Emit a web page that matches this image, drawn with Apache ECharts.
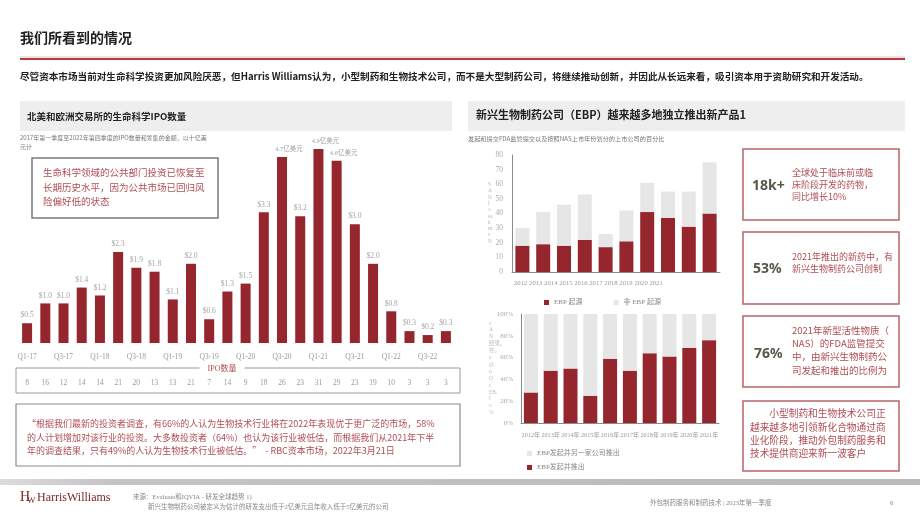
<!DOCTYPE html>
<html>
<head>
<meta charset="utf-8">
<script src="https://cdn.jsdelivr.net/npm/echarts@6/dist/echarts.min.js"></script>
<style>
  html, body { margin: 0; padding: 0; background: #fff; }
  #main { width: 920px; height: 518px; }
</style>
</head>
<body>
<div id="main"></div>
<script>
// 左图：北美和欧洲生命科学IPO（十亿美元 / 数量）
const quarters = ['Q1-17','Q2-17','Q3-17','Q4-17','Q1-18','Q2-18','Q3-18','Q4-18',
  'Q1-19','Q2-19','Q3-19','Q4-19','Q1-20','Q2-20','Q3-20','Q4-20',
  'Q1-21','Q2-21','Q3-21','Q4-21','Q1-22','Q2-22','Q3-22','Q4-22']
const ipoAmount = [0.5, 1.0, 1.0, 1.4, 1.2, 2.3, 1.9, 1.8, 1.1, 2.0, 0.6, 1.3,
  1.5, 3.3, 4.7, 3.2, 4.9, 4.6, 3.0, 2.0, 0.8, 0.3, 0.2, 0.3]
const ipoCount = [8, 16, 12, 14, 14, 21, 20, 13, 13, 21, 7, 14, 9, 18, 26, 23, 31, 29, 23, 19, 10, 3, 3, 3]

// 右上：NAS数量（按上市年份）
const years = ['2012','2013','2014','2015','2016','2017','2018','2019','2020','2021']
const ebpOrigin = [18, 19, 18, 22, 17, 21, 41, 37, 31, 40]
const nonEbpOrigin = [12, 22, 28, 31, 9, 21, 20, 18, 24, 35]

// 右下：百分比
const yearLabels = ['2012年','2013年','2014年','2015年','2016年','2017年','2018年','2019年','2020年','2021年']
const ebpLaunched = [28, 48, 50, 25, 59, 48, 64, 61, 69, 76]
const ebpPartnered = [72, 52, 50, 75, 41, 52, 36, 39, 31, 24]

const RED = '#95262d'
const LIGHT = '#e6e6e6'
const TXT_RED = '#b04c54'
const serif = '"Liberation Serif", "Noto Sans CJK SC", serif'
const sans = '"Noto Sans CJK SC", "Noto Sans", sans-serif'

const txt = (x, y, text, size, color, o = {}) => ({
  type: 'text', x, y, silent: true,
  style: {
    text,
    font: (o.weight || 'normal') + ' ' + size + 'px ' + (o.family || sans),
    fill: color,
    align: o.align || 'left', textAlign: o.align || 'left',
    verticalAlign: 'middle', textVerticalAlign: 'middle',
    lineHeight: o.lh
  }
})
const box = (x, y, w, h, stroke, lw, fill) => ({
  type: 'rect', silent: true,
  shape: { x, y, width: w, height: h },
  style: { fill: fill || 'none', stroke: stroke || 'none', lineWidth: lw || 0 }
})

// 大额（亿美元）的标签字号小一点并且往右偏，和原图一样
const ipoData = ipoAmount.map(v => v >= 4
  ? { value: v, label: { fontSize: 6.5, offset: [7, 0], formatter: v.toFixed(1) + '亿美元' } }
  : v)

const graphics = [
  // 页头
  txt(20, 38, '我们所看到的情况', 14, '#222', { weight: 'bold' }),
  { type: 'line', silent: true, shape: { x1: 20, y1: 57, x2: 905, y2: 57 }, style: { stroke: '#e8c4c6', lineWidth: 1 } },
  { type: 'line', silent: true, shape: { x1: 20, y1: 59, x2: 905, y2: 59 }, style: { stroke: '#b83a41', lineWidth: 2 } },
  txt(20, 76, '尽管资本市场当前对生命科学投资更加风险厌恶，但Harris Williams认为，小型制药和生物技术公司，而不是大型制药公司，将继续推动创新，并因此从长远来看，吸引资本用于资助研究和开发活动。', 9.6, '#222', { weight: 'bold' }),

  // 左图标题
  box(20, 101, 432, 30, null, 0, '#eeeeee'),
  txt(27, 116, '北美和欧洲交易所的生命科学IPO数量', 9.5, '#222', { weight: 'bold' }),
  txt(20, 142, '2017年第一季度至2022年第四季度的IPO数量和筹集的金额，以十亿美\n元计', 6, '#777', { lh: 8.5 }),
  box(32, 158, 186, 60, '#7a7a7a', 1.5),
  txt(43, 187, '生命科学领域的公共部门投资已恢复至\n长期历史水平，因为公共市场已回归风\n险偏好低的状态', 9.5, TXT_RED, { lh: 14.3 }),

  // IPO数量框
  box(16, 368, 444, 25, '#9a9a9a', 1),
  {
    type: 'text', x: 222, y: 369, silent: true, z: 10,
    style: {
      text: 'IPO数量', font: '8px ' + serif, fill: TXT_RED,
      align: 'center', textAlign: 'center', verticalAlign: 'middle', textVerticalAlign: 'middle',
      backgroundColor: '#fff', padding: [0, 8]
    }
  },

  // 引用框
  box(16, 404, 444, 62, '#8a8a8a', 1.2),
  txt(27, 437.5, '“根据我们最新的投资者调查，有66%的人认为生物技术行业将在2022年表现优于更广泛的市场，58%\n的人计划增加对该行业的投资。大多数投资者（64%）也认为该行业被低估，而根据我们从2021年下半\n年的调查结果，只有49%的人认为生物技术行业被低估。”  - RBC资本市场，2022年3月21日', 9, TXT_RED, { lh: 13.5 }),

  // 右图标题
  box(468, 101, 437, 30, null, 0, '#eeeeee'),
  txt(476, 115, '新兴生物制药公司（EBP）越来越多地独立推出新产品1', 11, '#222', { weight: 'bold' }),
  txt(468, 139, '发起和提交FDA监管提交以及按照NAS上市年份划分的上市公司的百分比', 6.2, '#777'),
  txt(514, 283, years.join(' '), 6.7, '#999', { family: serif }),
  txt(488, 213, 'S\nA\nN\nf\no\ner.\nk\nm.\ns\nN', 5.5, '#bbb', { family: serif, lh: 6.3 }),
  txt(489, 368, 's\nA\nN\n结果。\n在。\ns\ngl.\nn\nO\nr.\nEB.\nf\no\n%', 5.5, '#bbb', { family: serif, lh: 6.9 }),

  // 右侧关键数字框
  box(743, 149, 156, 71, '#b8646b', 1.5),
  txt(752, 186, '18k+', 14, '#57574a', { weight: 'bold', family: '"Noto Sans", sans-serif' }),
  txt(792, 184.5, '全球处于临床前或临\n床阶段开发的药物，\n同比增长10%', 9, TXT_RED, { lh: 12.4 }),
  box(743, 232, 156, 72, '#b8646b', 1.5),
  txt(753, 269, '53%', 14, '#57574a', { weight: 'bold', family: '"Noto Sans", sans-serif' }),
  txt(792, 262.5, '2021年推出的新药中，有\n新兴生物制药公司创制', 9, TXT_RED, { lh: 11.8 }),
  box(743, 316, 156, 71, '#b8646b', 1.5),
  txt(754, 354, '76%', 14, '#57574a', { weight: 'bold', family: '"Noto Sans", sans-serif' }),
  txt(792, 350, '2021年新型活性物质（\nNAS）的FDA监管提交\n中，由新兴生物制药公\n司发起和推出的比例为', 9.5, TXT_RED, { lh: 13.3 }),
  box(743, 401, 156, 70, '#b8646b', 1.5),
  txt(750, 433.5, '\u3000\u3000小型制药和生物技术公司正\n越来越多地引领新化合物通过商\n业化阶段，推动外包制药服务和\n技术提供商迎来新一波客户', 9.7, TXT_RED, { lh: 13.3 }),

  // 页脚
  {
    type: 'rect', silent: true, shape: { x: 0, y: 479, width: 920, height: 6 },
    style: { fill: new echarts.graphic.LinearGradient(0, 0, 1, 0, [{ offset: 0, color: '#dcdcdc' }, { offset: 0.12, color: '#c4c4c4' }, { offset: 1, color: '#b9b9b9' }]) }
  },
  txt(20, 497, 'H', 14, '#7a1f26', { family: serif }),
  txt(27, 501, 'W', 9, '#7a1f26', { family: serif }),
  txt(37, 498, 'HarrisWilliams', 12, '#7a1f26', { family: serif }),
  txt(133, 497, '来源：Evaluate和IQVIA - 研发全球趋势 1)', 6.5, '#888', { family: serif }),
  txt(148, 507, '新兴生物制药公司被定义为估计的研发支出低于2亿美元且年收入低于5亿美元的公司', 6.5, '#888', { family: serif }),
  txt(650, 503, '外包制药服务和制药技术 | 2023年第一季度', 6.5, '#888', { family: serif }),
  txt(890, 503, '6', 6.5, '#888', { family: serif })
]

const option = {
  animation: false,
  backgroundColor: '#fff',
  grid: [
    { left: 18, top: 145, width: 437, height: 198 },
    { left: 512, top: 155, width: 208, height: 117 },
    { left: 521, top: 314, width: 198, height: 109 }
  ],
  legend: [
    {
      data: ['EBP 起源', '非 EBP 起源'], left: 539, top: 294, icon: 'rect',
      itemWidth: 5, itemHeight: 5, itemGap: 31,
      textStyle: { fontSize: 7, color: '#888', fontFamily: serif }
    },
    {
      data: ['EBP发起并另一家公司推出', 'EBP发起并推出'], left: 522, top: 445, orient: 'vertical', icon: 'rect',
      itemWidth: 5, itemHeight: 5, itemGap: 7,
      textStyle: { fontSize: 7, color: '#888', fontFamily: serif }
    }
  ],
  xAxis: [
    {
      gridIndex: 0, type: 'category', data: quarters,
      axisLine: { show: false }, axisTick: { show: false },
      axisLabel: { interval: 1, color: '#999', fontFamily: serif, fontSize: 7.5, margin: 10 }
    },
    {
      gridIndex: 0, type: 'category', data: quarters, position: 'bottom', offset: 28,
      axisLine: { show: false }, axisTick: { show: false },
      axisLabel: { interval: 0, color: '#999', fontFamily: serif, fontSize: 7.5, margin: 8,
        formatter: (v, i) => String(ipoCount[i]) }
    },
    {
      gridIndex: 1, type: 'category', data: years,
      axisLine: { lineStyle: { color: '#8a8a8a' } }, axisTick: { show: false }, axisLabel: { show: false }
    },
    {
      gridIndex: 2, type: 'category', data: yearLabels,
      axisLine: { lineStyle: { color: '#8a8a8a' } }, axisTick: { show: false },
      axisLabel: { interval: 0, color: '#999', fontFamily: serif, fontSize: 6.2, margin: 9 }
    }
  ],
  yAxis: [
    { gridIndex: 0, type: 'value', min: 0, max: 5, show: false },
    {
      gridIndex: 1, type: 'value', min: 0, max: 80, interval: 10,
      axisLine: { show: true, lineStyle: { color: '#8a8a8a' } }, axisTick: { show: false },
      splitLine: { show: false },
      axisLabel: { color: '#aaa', fontFamily: serif, fontSize: 7.5, margin: 9 }
    },
    {
      gridIndex: 2, type: 'value', min: 0, max: 100, interval: 20,
      axisLine: { show: true, lineStyle: { color: '#8a8a8a' } }, axisTick: { show: false },
      splitLine: { show: false },
      axisLabel: { color: '#aaa', fontFamily: serif, fontSize: 7, margin: 8, formatter: '{value}%' }
    }
  ],
  series: [
    {
      name: 'IPO金额', type: 'bar', xAxisIndex: 0, yAxisIndex: 0, data: ipoData,
      barWidth: 10, itemStyle: { color: RED },
      label: {
        show: true, position: 'top', distance: 4, color: '#a3a3a3', fontFamily: serif, fontSize: 7.5,
        formatter: p => '$' + p.value.toFixed(1)
      }
    },
    {
      name: 'EBP 起源', type: 'bar', stack: 'nas', xAxisIndex: 2, yAxisIndex: 1,
      data: ebpOrigin, barWidth: 14, itemStyle: { color: RED }
    },
    {
      name: '非 EBP 起源', type: 'bar', stack: 'nas', xAxisIndex: 2, yAxisIndex: 1,
      data: nonEbpOrigin, barWidth: 14, itemStyle: { color: LIGHT }
    },
    {
      name: 'EBP发起并推出', type: 'bar', stack: 'pct', xAxisIndex: 3, yAxisIndex: 2,
      data: ebpLaunched, barWidth: 14, itemStyle: { color: RED }
    },
    {
      name: 'EBP发起并另一家公司推出', type: 'bar', stack: 'pct', xAxisIndex: 3, yAxisIndex: 2,
      data: ebpPartnered, barWidth: 14, itemStyle: { color: LIGHT }
    }
  ],
  graphic: { elements: graphics }
}

const chart = echarts.init(document.getElementById('main'))
chart.setOption(option)
</script>
</body>
</html>
